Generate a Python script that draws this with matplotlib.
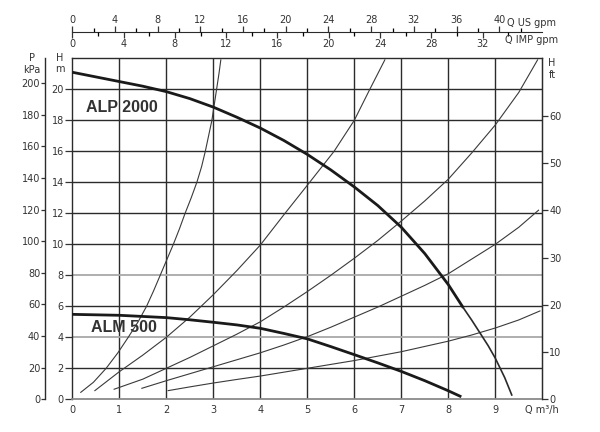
import numpy as np
import matplotlib
matplotlib.use("Agg")
import matplotlib.pyplot as plt

# pump curves, Q in m3/h and H in m
alp_q = [0, 0.5, 1, 1.5, 2, 2.5, 3, 3.5, 4, 4.5, 5, 5.5, 6, 6.5, 7, 7.5, 8, 8.32]
alp_h = [21.1, 20.8, 20.5, 20.2, 19.85, 19.4, 18.85, 18.2, 17.5, 16.7, 15.8, 14.8,
         13.7, 12.5, 11.1, 9.4, 7.4, 5.9]
alp_tail_q = [8.32, 8.5, 8.67, 8.85, 9.0, 9.2, 9.35]
alp_tail_h = [5.9, 5.1, 4.3, 3.45, 2.65, 1.4, 0.28]

alm_q = [0, 1, 2, 2.5, 3, 3.5, 4, 4.5, 5, 5.5, 6, 6.5, 7, 7.5, 8, 8.25]
alm_h = [5.48, 5.42, 5.27, 5.13, 4.97, 4.8, 4.58, 4.25, 3.9, 3.4, 2.88, 2.35, 1.8, 1.2,
         0.55, 0.2]

# system curves (thin lines)
sys_a_q = [0.18, 0.45, 0.72, 0.97, 1.19, 1.4, 1.58, 1.73, 1.87, 2.01, 2.15, 2.28, 2.40,
           2.53, 2.65, 2.75, 2.83, 2.90, 2.97, 3.02, 3.07, 3.12, 3.16]
sys_a_h = [0.45, 1.1, 2, 3, 4, 5, 6, 7, 8, 9, 10, 11, 12,
           13, 14, 15, 16, 17, 18, 19, 20, 21, 21.9]
sys_b_q = [0.48, 1.0, 1.5, 2.0, 2.5, 3.0, 3.5, 4.0, 4.5, 5.05, 5.57, 6.0, 6.33, 6.65]
sys_b_h = [0.56, 1.78, 2.85, 4.0, 5.3, 6.75, 8.3, 9.95, 11.9, 14.0, 16.0, 18.0, 20.0, 21.9]
sys_c_q = [0.89, 1.5, 2.0, 2.5, 3.0, 3.5, 4.0, 4.5, 5.0, 5.5, 6.0, 6.5, 7.0, 7.5, 8.0,
           8.5, 9.0, 9.5, 9.9]
sys_c_h = [0.65, 1.3, 2.0, 2.7, 3.45, 4.2, 5.0, 5.95, 6.95, 8.0, 9.1, 10.25, 11.5, 12.8,
           14.2, 15.9, 17.7, 19.8, 21.9]
sys_d_q = [1.48, 2.0, 2.5, 3.0, 3.5, 4.0, 4.5, 5.0, 5.5, 6.0, 6.5, 7.0, 7.5, 8.0, 8.5,
           9.0, 9.5, 9.92]
sys_d_h = [0.71, 1.2, 1.65, 2.1, 2.55, 3.0, 3.5, 4.04, 4.65, 5.3, 5.95, 6.65, 7.35, 8.1,
           9.05, 10.0, 11.1, 12.2]
sys_e_q = [2.04, 2.5, 3.0, 3.5, 4.0, 5.0, 6.0, 7.0, 8.0, 8.5, 9.0, 9.5, 9.95]
sys_e_h = [0.56, 0.8, 1.05, 1.28, 1.5, 2.0, 2.5, 3.07, 3.75, 4.15, 4.6, 5.12, 5.7]

q_labels = ["0", "1", "2", "3", "4", "5", "6", "7", "8", "9", "Q m\u00b3/h"]
gray_rows = [4, 8]

KPA_PER_M = 9.81
FT_PER_M = 3.2808
USGPM_PER_M3H = 4.403
IMPGPM_PER_M3H = 3.666

dark = "#2b2b2b"
txt = "#333333"
fs = 7

fig = plt.figure(figsize=(6, 4.32), dpi=100)
pos = [72.3 / 600, 32.7 / 432, 470 / 600, 341 / 432]
ax = fig.add_axes(pos)
ax.set_xlim(0, 10)
ax.set_ylim(0, 22)

# grid
for q in range(1, 10):
    ax.axvline(q, color=dark, lw=1.0, zorder=1)
for h in range(2, 22, 2):
    if h in gray_rows:
        ax.axhline(h, color="#a8a8a8", lw=1.3, zorder=1)
    else:
        ax.axhline(h, color=dark, lw=1.0, zorder=1)

for s in ["left", "top", "right"]:
    ax.spines[s].set_color(dark)
    ax.spines[s].set_linewidth(1.0)
ax.spines["bottom"].set_color("#8a8a8a")
ax.spines["bottom"].set_linewidth(1.3)

ax.set_xticks(range(0, 11))
ax.set_xticklabels(q_labels)
ax.set_yticks(range(0, 22, 2))
ax.tick_params(axis="x", length=0, pad=4, labelsize=fs, colors=txt)
ax.tick_params(axis="y", length=5, width=0.9, pad=1, labelsize=fs, colors=txt)

# curves
thin = dict(color="#3a3a3a", lw=0.8, zorder=3)
for qq, hh in [(sys_a_q, sys_a_h), (sys_b_q, sys_b_h), (sys_c_q, sys_c_h),
               (sys_d_q, sys_d_h), (sys_e_q, sys_e_h)]:
    ax.plot(qq, hh, **thin)
ax.plot(alp_q, alp_h, color="#1a1a1a", lw=2.0, zorder=4, solid_capstyle="butt")
ax.plot(alp_tail_q, alp_tail_h, color="#2a2a2a", lw=1.2, zorder=4)
ax.plot(alm_q, alm_h, color="#1a1a1a", lw=2.0, zorder=4)

ax.text(0.29, 18.8, "ALP 2000", family="Liberation Sans", weight="bold",
        fontsize=11.5, color=txt, va="center", ha="left", zorder=5)
ax.text(0.39, 4.6, "ALM 500", family="Liberation Sans", weight="bold",
        fontsize=11.5, color=txt, va="center", ha="left", zorder=5)

# P kPa axis on the left
axp = ax.twinx()
axp.set_ylim(0, 22 * KPA_PER_M)
for s in ["top", "right", "bottom"]:
    axp.spines[s].set_visible(False)
axp.spines["left"].set_visible(True)
axp.spines["left"].set_position(("axes", -27.3 / 470))
axp.spines["left"].set_color(dark)
axp.spines["left"].set_linewidth(1.0)
axp.yaxis.set_ticks_position("left")
axp.set_yticks(range(0, 220, 20))
axp.tick_params(axis="y", length=3, width=0.9, pad=0.5, labelsize=fs, colors=txt)

# H ft axis on the right
axr = ax.twinx()
axr.set_ylim(0, 22 * FT_PER_M)
for s in ["top", "left", "bottom"]:
    axr.spines[s].set_visible(False)
axr.spines["right"].set_color(dark)
axr.set_yticks(range(0, 70, 10))
axr.tick_params(axis="y", length=4, width=0.9, pad=1, labelsize=fs, colors=txt)

# top flow scales: US gpm above the line, IMP gpm below
ty = (432 - 32.3) / 432
axt = fig.add_axes([pos[0], ty, pos[2], 1e-4])
axt.set_xlim(0, 10 * USGPM_PER_M3H)
axt.patch.set_visible(False)
for s in ["left", "right", "bottom"]:
    axt.spines[s].set_visible(False)
axt.spines["top"].set_color(dark)
axt.set_yticks([])
axt.xaxis.tick_top()
axt.set_xticks(range(0, 41, 4))
axt.set_xticks(range(2, 43, 4), minor=True)
axt.tick_params(axis="x", which="major", length=4, width=0.9, pad=1, labelsize=fs, colors=txt)
axt.tick_params(axis="x", which="minor", length=3, width=0.9)

axi = fig.add_axes([pos[0], ty, pos[2], 1e-4])
axi.set_xlim(0, 10 * IMPGPM_PER_M3H)
axi.patch.set_visible(False)
for s in ["left", "right", "top", "bottom"]:
    axi.spines[s].set_visible(False)
axi.set_yticks([])
axi.set_xticks(range(0, 33, 4))
axi.set_xticks(range(2, 35, 4), minor=True)
axi.tick_params(axis="x", which="major", length=4, width=0.9, pad=1, labelsize=fs, colors=txt)
axi.tick_params(axis="x", which="minor", length=3, width=0.9)

fig.text(507 / 600, 1 - 22.5 / 432, "Q US gpm", fontsize=fs, color=txt, va="center", ha="left")
fig.text(505 / 600, 1 - 40 / 432, "Q IMP gpm", fontsize=fs, color=txt, va="center", ha="left")

# axis titles
fig.text(32 / 600, 1 - 58 / 432, "P", fontsize=fs, color=txt, ha="center", va="center")
fig.text(32 / 600, 1 - 70 / 432, "kPa", fontsize=fs, color=txt, ha="center", va="center")
fig.text(60 / 600, 1 - 58 / 432, "H", fontsize=fs, color=txt, ha="center", va="center")
fig.text(60 / 600, 1 - 69 / 432, "m", fontsize=fs, color=txt, ha="center", va="center")
fig.text(552 / 600, 1 - 63 / 432, "H", fontsize=fs, color=txt, ha="center", va="center")
fig.text(552 / 600, 1 - 75 / 432, "ft", fontsize=fs, color=txt, ha="center", va="center")

fig.savefig("out.png", dpi=100)
